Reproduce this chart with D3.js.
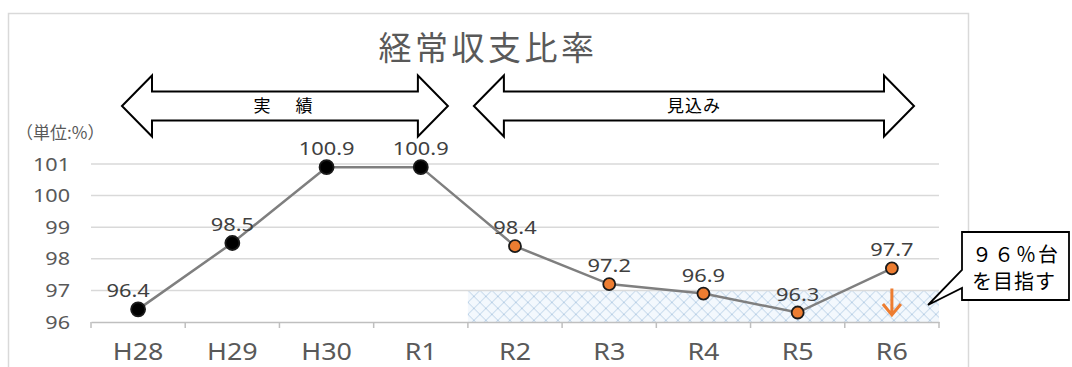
<!DOCTYPE html>
<html>
<head>
<meta charset="utf-8">
<script src="https://cdn.jsdelivr.net/npm/d3@7"></script>
<style>
  body { margin: 0; background: #fff; }
  svg { display: block; }
</style>
</head>
<body>
<div id="chart"></div>
<script>
// 経常収支比率 (単位:%)
const actualCategories = ["H28", "H29", "H30", "R1"];
const forecastCategories = ["R2", "R3", "R4", "R5", "R6"];
const categories = actualCategories.concat(forecastCategories);
const values = [96.4, 98.5, 100.9, 100.9, 98.4, 97.2, 96.9, 96.3, 97.7];
const yTicks = [96, 97, 98, 99, 100, 101];
const targetRange = [96, 97];

const W = 1072, H = 367;
const numFont = "'Noto Sans', 'Noto Sans CJK JP', sans-serif";
const jpFont = "'Noto Sans CJK JP', sans-serif";

const svg = d3.select("#chart").append("svg")
  .attr("width", W)
  .attr("height", H);

svg.append("rect").attr("width", W).attr("height", H).attr("fill", "#fff");

// chart frame
svg.append("rect")
  .attr("x", 8.5).attr("y", 13.5)
  .attr("width", 960).attr("height", 400)
  .attr("fill", "none")
  .attr("stroke", "#d9d9d9")
  .attr("stroke-width", 1.5);

const x = d3.scaleBand().domain(categories).range([91, 939]).padding(0);
const y = d3.scaleLinear().domain([96, 101]).range([322, 164]);
const cx = d => x(d) + x.bandwidth() / 2;

// horizontally stretched text helper
const label = (g, px, py, txt, size, fill, anchor, sx, family) => {
  g.append("g")
    .attr("transform", `translate(${px},${py}) scale(${sx},1)`)
    .append("text")
    .attr("text-anchor", anchor)
    .attr("font-family", family || numFont)
    .attr("font-size", size)
    .attr("fill", fill)
    .text(txt);
};

// hatch pattern for target zone
const defs = svg.append("defs");
const pat = defs.append("pattern")
  .attr("id", "hatch")
  .attr("patternUnits", "userSpaceOnUse")
  .attr("width", 12).attr("height", 12)
  .attr("x", x(forecastCategories[0]))
  .attr("y", y(targetRange[1]));
pat.append("rect").attr("width", 12).attr("height", 12).attr("fill", "#f3f8fd");
pat.append("path")
  .attr("d", "M0,0 L12,12 M12,0 L0,12")
  .attr("stroke", "#b9d0e6")
  .attr("stroke-width", 1);

svg.append("rect")
  .attr("x", x(forecastCategories[0]))
  .attr("y", y(targetRange[1]))
  .attr("width", x.range()[1] - x(forecastCategories[0]))
  .attr("height", y(targetRange[0]) - y(targetRange[1]))
  .attr("fill", "url(#hatch)");

// gridlines
svg.append("g")
  .selectAll("line")
  .data(yTicks.slice(1))
  .join("line")
  .attr("x1", x.range()[0]).attr("x2", x.range()[1])
  .attr("y1", d => y(d)).attr("y2", d => y(d))
  .attr("stroke", "#d9d9d9")
  .attr("stroke-width", 1.5);

// x axis
const xAxis = svg.append("g")
  .attr("transform", `translate(0,${y(96)})`)
  .call(d3.axisBottom(x).tickSize(0).tickPadding(0).tickFormat(""));
xAxis.select(".domain").attr("stroke", "#bfbfbf").attr("stroke-width", 1.5);
xAxis.selectAll(".tick").remove();
xAxis.selectAll("line.sep")
  .data(categories.map(c => x(c)).concat([x.range()[1]]))
  .join("line")
  .attr("class", "sep")
  .attr("x1", d => d).attr("x2", d => d)
  .attr("y1", 0).attr("y2", 6)
  .attr("stroke", "#bfbfbf")
  .attr("stroke-width", 1.5);

const xl = svg.append("g");
categories.forEach(c => label(xl, cx(c), 360, c, 24, "#595959", "middle", 1.12));

// y labels
const yl = svg.append("g");
yTicks.forEach(t => label(yl, 70, y(t) + 6.5, t, 18, "#595959", "end", 1.2));

// unit
svg.append("text")
  .attr("x", 16).attr("y", 139)
  .attr("font-family", jpFont)
  .attr("font-size", 17)
  .attr("fill", "#595959")
  .text("（単位:%）");

// title
svg.append("text")
  .attr("x", 488).attr("y", 60)
  .attr("text-anchor", "middle")
  .attr("font-family", jpFont)
  .attr("font-size", 33)
  .attr("letter-spacing", 3.5)
  .attr("fill", "#595959")
  .text("経常収支比率");

// line
const pts = categories.map((c, i) => [cx(c), y(values[i])]);
svg.append("path")
  .attr("d", d3.line()(pts))
  .attr("fill", "none")
  .attr("stroke", "#7f7f7f")
  .attr("stroke-width", 2.5);

// markers
svg.append("g")
  .selectAll("circle")
  .data(categories)
  .join("circle")
  .attr("cx", d => cx(d))
  .attr("cy", (d, i) => y(values[i]))
  .attr("r", (d) => actualCategories.includes(d) ? 7 : 6)
  .attr("fill", d => actualCategories.includes(d) ? "#000" : "#ed7d31")
  .attr("stroke", "#1a1a1a")
  .attr("stroke-width", 1.8);

// data labels
const dl = svg.append("g");
categories.forEach((c, i) => {
  const lx = i === 0 ? cx(c) - 10 : cx(c);
  label(dl, lx, y(values[i]) - 12, values[i].toFixed(1), 19, "#404040", "middle", 1.15);
});

// double arrows
const dblArrow = (x0, x1, yc, text, spacing) => {
  const sh = 14.5, hh = 30.5, hl = 30;
  const p = d3.path();
  p.moveTo(x0, yc);
  p.lineTo(x0 + hl, yc - hh);
  p.lineTo(x0 + hl, yc - sh);
  p.lineTo(x1 - hl, yc - sh);
  p.lineTo(x1 - hl, yc - hh);
  p.lineTo(x1, yc);
  p.lineTo(x1 - hl, yc + hh);
  p.lineTo(x1 - hl, yc + sh);
  p.lineTo(x0 + hl, yc + sh);
  p.lineTo(x0 + hl, yc + hh);
  p.closePath();
  svg.append("path")
    .attr("d", p.toString())
    .attr("fill", "#fff")
    .attr("stroke", "#000")
    .attr("stroke-width", 2);
  svg.append("text")
    .attr("x", (x0 + x1) / 2).attr("y", yc + 6)
    .attr("text-anchor", "middle")
    .attr("font-family", jpFont)
    .attr("font-size", 17)
    .attr("letter-spacing", spacing)
    .attr("fill", "#000")
    .text(text);
};
dblArrow(x(actualCategories[0]) + 31, x(actualCategories[3]) + x.bandwidth() - 20, 106, "実　績", 4);
dblArrow(x(forecastCategories[0]) + 6, x(forecastCategories[4]) + x.bandwidth() - 25, 106, "見込み", 1);

// orange target arrow at R6
const ax = cx("R6");
svg.append("path")
  .attr("d", `M${ax},${y(97) - 2} V${y(96) - 8} M${ax - 9},${y(96) - 18} L${ax},${y(96) - 7} L${ax + 9},${y(96) - 18}`)
  .attr("fill", "none")
  .attr("stroke", "#ed7d31")
  .attr("stroke-width", 3);

// callout
svg.append("path")
  .attr("d", "M962,232 H1069 V300 H962 V288 L928,305 L962,270 Z")
  .attr("fill", "#fff")
  .attr("stroke", "#000")
  .attr("stroke-width", 1.8);
svg.append("text")
  .attr("x", 972).attr("y", 262)
  .attr("font-family", jpFont)
  .attr("font-size", 20)
  .attr("letter-spacing", 2)
  .attr("fill", "#000")
  .text("９６％台");
svg.append("text")
  .attr("x", 972).attr("y", 289)
  .attr("font-family", jpFont)
  .attr("font-size", 20)
  .attr("letter-spacing", 1)
  .attr("fill", "#000")
  .text("を目指す");
</script>
</body>
</html>
